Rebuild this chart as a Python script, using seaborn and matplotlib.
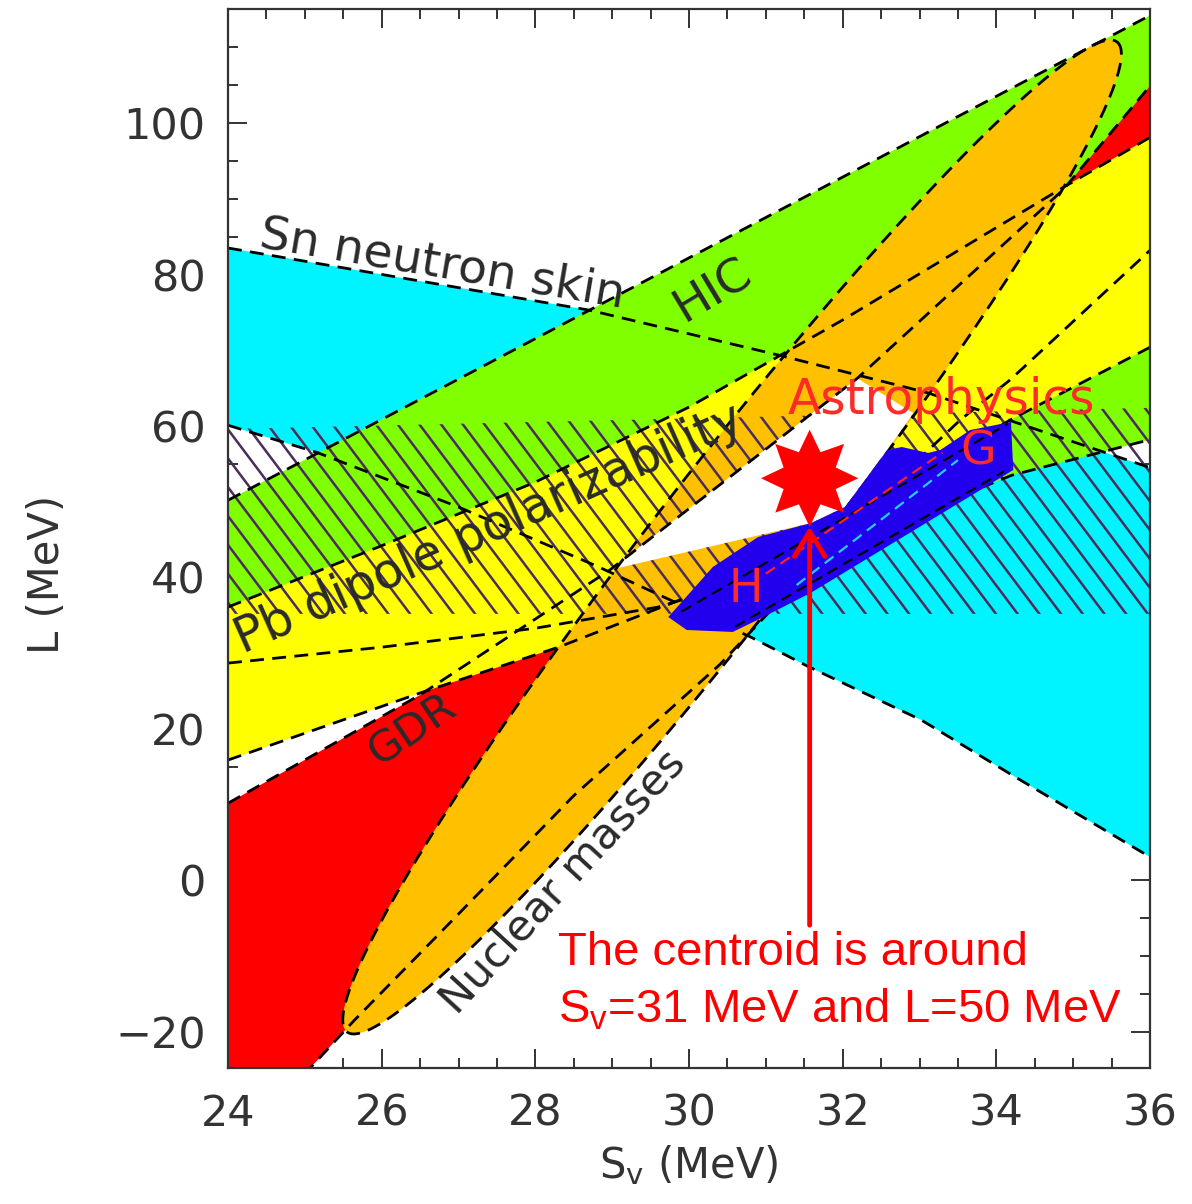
import numpy as np
import matplotlib
matplotlib.use("Agg")
import matplotlib.pyplot as plt
import seaborn as sns
from matplotlib.path import Path
from matplotlib.patches import Polygon
from matplotlib.collections import LineCollection
from matplotlib.ticker import MultipleLocator

# ---------------- constraint regions in the (S_v, L) plane [MeV] ----------------
# Sn neutron skin
sn_upper_sv = [24.0, 28.7, 31.15, 33.1, 36.0]
sn_upper_l = [83.5, 75.3, 69.4, 64.4, 54.5]
sn_lower_sv = [24.0, 25.16, 27.0, 28.8, 30.81, 31.56, 33.02, 34.24, 36.0]
sn_lower_l = [60.1, 56.5, 49.3, 41.5, 32.1, 28.2, 21.2, 13.7, 3.1]

# heavy-ion collisions
hic_upper_sv = [24.0, 36.0]
hic_upper_l = [50.2, 114.2]
hic_lower_sv = [24.0, 26.0, 28.0, 29.6, 31.0, 32.5, 34.2, 36.0]
hic_lower_l = [28.7, 30.8, 33.3, 36.1, 40.5, 46.5, 53.5, 58.2]

# giant dipole resonance
gdr_upper_sv = [24.0, 26.5, 28.97, 32.19, 34.87, 36.0]
gdr_upper_l = [10.2, 24.5, 41.0, 66.3, 91.2, 104.9]
gdr_lower_sv = [24.0, 25.07, 25.63, 26.8, 28.5, 30.4, 32.3, 33.53, 34.18, 36.0]
gdr_lower_l = [-36.4, -24.75, -18.6, -6.5, 11.2, 28.5, 49.0, 60.8, 66.1, 83.2]

# Pb dipole polarizability
pb_upper_sv = [24.0, 26.0, 28.0, 30.0, 32.0, 34.87, 36.0]
pb_upper_l = [36.1, 44.2, 52.6, 62.5, 74.0, 91.5, 98.1]
pb_lower_sv = [24.0, 26.5, 28.3, 30.0, 32.0, 34.18, 36.0]
pb_lower_l = [15.9, 24.75, 30.8, 37.5, 47.5, 60.8, 70.4]

# nuclear masses: ellipse centre and conjugate semi-axes
mass_center = (30.56, 45.35)
mass_axis_major = (5.011, 65.35)
mass_axis_minor = (0.750, -5.914)

# neutron-matter hatched band
nm_sv = [24.0, 36.0]
nm_upper_l = [59.6, 62.4]
nm_lower_l = [35.2, 35.2]

# region allowed by all experiments
cons_sv = [28.97, 32.19, 32.92, 32.58, 32.03, 31.59]
cons_l = [41.0, 66.3, 61.7, 56.83, 49.31, 47.19]

# astrophysical (mass-radius) region
astro_sv = [29.73, 30.31, 30.90, 31.59, 32.03, 32.58, 32.77, 33.11, 33.27, 33.66,
            34.19, 34.22, 34.05, 31.58, 30.89, 30.57, 29.97]
astro_l = [34.78, 41.39, 45.35, 47.19, 49.31, 56.83, 57.23, 56.44, 56.83, 59.47,
           60.53, 54.19, 53.14, 37.95, 34.39, 32.81, 33.07]

# neutron-matter curves H and G drawn inside the astrophysical region
h_black_sv, h_black_l = [29.9, 34.15], [35.5, 60.3]
g_black_sv, g_black_l = [30.6, 34.1], [33.5, 54.0]
h_red_sv, h_red_l = [31.0, 33.3], [40.5, 56.5]
g_cyan_sv, g_cyan_l = [31.4, 33.5], [39.0, 55.5]

# centroid marker and arrow
centroid_sv, centroid_l = 31.57, 53.1
arrow_tail_l, arrow_tip_l = -5.9, 46.7

# ---------------- figure ----------------
sns.set_theme(style="ticks")
plt.rcParams["font.family"] = ["DejaVu Sans"]
plt.rcParams["axes.unicode_minus"] = True

W, H = 11.92, 12.04
fig = plt.figure(figsize=(W, H), dpi=100)
ax_box = [0.1913, 0.1130, 0.7735, 0.8795]
ax = fig.add_axes(ax_box)
XLIM, YLIM = (24, 36), (-24.75, 115.05)

C_CYAN = "#00f4ff"
C_GREEN = "#80ff00"
C_RED = "#ff0000"
C_YELLOW = "#ffff00"
C_ORANGE = "#ffc000"
C_BLUE = "#2200ee"
C_HATCH = "#4b2d5c"
C_TEXT = "#2a2a2a"


def band(ux, uy, lx, ly):
    xs = list(ux) + list(lx)[::-1]
    ys = list(uy) + list(ly)[::-1]
    return np.column_stack([xs, ys])


def fill(poly, color, z):
    p = Polygon(poly, closed=True, facecolor=color, edgecolor="none", zorder=z)
    ax.add_patch(p)
    return p


fill(band(sn_upper_sv, sn_upper_l, sn_lower_sv, sn_lower_l), C_CYAN, 1)
fill(band(hic_upper_sv, hic_upper_l, hic_lower_sv, hic_lower_l), C_GREEN, 2)
fill(band(gdr_upper_sv, gdr_upper_l, gdr_lower_sv, gdr_lower_l), C_RED, 3)
fill(band(pb_upper_sv, pb_upper_l, pb_lower_sv, pb_lower_l), C_YELLOW, 4)

t = np.linspace(0, 2 * np.pi, 400)
ell_x = mass_center[0] + mass_axis_major[0] * np.cos(t) + mass_axis_minor[0] * np.sin(t)
ell_y = mass_center[1] + mass_axis_major[1] * np.cos(t) + mass_axis_minor[1] * np.sin(t)
fill(np.column_stack([ell_x, ell_y]), C_ORANGE, 5)

# hatch for the neutron-matter band, drawn at the slant of the original artwork
ax_w_px = ax_box[2] * W * 100
ax_h_px = ax_box[3] * H * 100
sx = ax_w_px / (XLIM[1] - XLIM[0])
sy = ax_h_px / (YLIM[1] - YLIM[0])
step = 21.7 / sx
slope = -1.33 * sx / sy
hatch_clip = Polygon(band(nm_sv, nm_upper_l, nm_sv, nm_lower_l), closed=True,
                     facecolor="none", edgecolor="none", transform=ax.transData)
ax.add_patch(hatch_clip)
segs = [[(x0, 70.0), (x0 + (25.0 - 70.0) / slope, 25.0)]
        for x0 in np.arange(20.4, 37.0, step)]
lc = LineCollection(segs, colors=C_HATCH, linewidths=1.8, zorder=6)
ax.add_collection(lc)
lc.set_clip_path(hatch_clip)

fill(np.column_stack([cons_sv, cons_l]), "white", 7)

# dashed boundaries of every constraint
dash = (0, (5, 3))


def outline(xs, ys, color="black", z=8, lw=2.0):
    sns.lineplot(x=list(xs), y=list(ys), sort=False, estimator=None, color=color,
                 linewidth=lw, linestyle=dash, ax=ax, zorder=z, legend=False)


for xs, ys in [(sn_upper_sv, sn_upper_l), (sn_lower_sv, sn_lower_l),
               (hic_upper_sv, hic_upper_l), (hic_lower_sv, hic_lower_l),
               (gdr_upper_sv, gdr_upper_l), (gdr_lower_sv, gdr_lower_l),
               (pb_upper_sv, pb_upper_l), (pb_lower_sv, pb_lower_l),
               (ell_x, ell_y)]:
    outline(xs, ys)

fill(np.column_stack([astro_sv, astro_l]), C_BLUE, 9)
outline(h_black_sv, h_black_l, z=10, lw=1.6)
outline(g_black_sv, g_black_l, z=10, lw=1.6)
outline(h_red_sv, h_red_l, color="#ff2020", z=10, lw=1.6)
outline(g_cyan_sv, g_cyan_l, color="#20d0ff", z=10, lw=1.6)

# region labels
lab = dict(color=C_TEXT, ha="center", va="center", rotation_mode="anchor", zorder=11)
ax.text(26.79, 81.25, "Sn neutron skin", rotation=-9.5, fontsize=34, **lab)
ax.text(30.31, 77.9, "HIC", rotation=31, fontsize=34, **lab)
ax.text(27.40, 46.4, "Pb dipole polarizability", rotation=24, fontsize=35, **lab)
ax.text(26.40, 19.9, "GDR", rotation=34, fontsize=31, **lab)
ax.text(28.36, -0.2, "Nuclear masses", rotation=47.5, fontsize=31, **lab)
red_lab = dict(color="#ff2a2a", ha="center", va="center", zorder=11)
ax.text(33.29, 63.4, "Astrophysics", fontsize=35, **red_lab)
ax.text(30.74, 38.35, "H", fontsize=33, **red_lab)
ax.text(33.76, 56.6, "G", fontsize=33, **red_lab)

# centroid star, arrow and note
n_pts = 8
ang = np.pi / 2 + np.arange(2 * n_pts) * np.pi / n_pts
rad = np.where(np.arange(2 * n_pts) % 2 == 0, 1.0, 0.58)
verts = np.column_stack([rad * np.cos(ang), rad * np.sin(ang)])
star = Path(np.vstack([verts, verts[:1]]), closed=True)
sns.scatterplot(x=[centroid_sv], y=[centroid_l], marker=star, s=70 ** 2,
                color="#ff0000", edgecolor="none", linewidth=0, ax=ax,
                zorder=13, legend=False)

ax.annotate("", xy=(centroid_sv, arrow_tip_l), xytext=(centroid_sv, arrow_tail_l),
            arrowprops=dict(arrowstyle="->,head_length=0.9,head_width=0.55",
                            lw=3.5, color="#ff0000", mutation_scale=20,
                            shrinkA=0, shrinkB=0),
            zorder=12)
note = dict(color="#ff0000", fontsize=34, family=["Liberation Sans"],
            ha="left", va="baseline", zorder=12)
ax.text(28.295, -11.15, "The centroid is around", **note)
ax.text(28.295, -18.7, r"S$_\mathregular{v}$=31 MeV and L=50 MeV", **note)

# axes
ax.set_xlim(*XLIM)
ax.set_ylim(*YLIM)
ax.xaxis.set_major_locator(MultipleLocator(2))
ax.xaxis.set_minor_locator(MultipleLocator(0.5))
ax.yaxis.set_major_locator(MultipleLocator(20))
ax.yaxis.set_minor_locator(MultipleLocator(5))
ax.tick_params(which="both", direction="in", top=True, right=True,
               color="#333333", width=1.4, labelcolor="#333333")
ax.tick_params(which="major", length=14, labelsize=31)
ax.tick_params(axis="x", which="major", pad=18)
ax.tick_params(axis="y", which="major", pad=16)
ax.tick_params(which="minor", length=7)
for s in ax.spines.values():
    s.set_linewidth(1.6)
    s.set_color("#333333")
    s.set_zorder(20)

ax.set_xlabel(r"S$_\mathregular{v}$ (MeV)", fontsize=30, color="#333333")
ax.set_ylabel("L (MeV)", fontsize=30, color="#333333")
ax.xaxis.set_label_coords(0.5, -0.071)
ax.yaxis.set_label_coords(-0.1735, 0.4656)

fig.savefig("out.png", dpi=100)
